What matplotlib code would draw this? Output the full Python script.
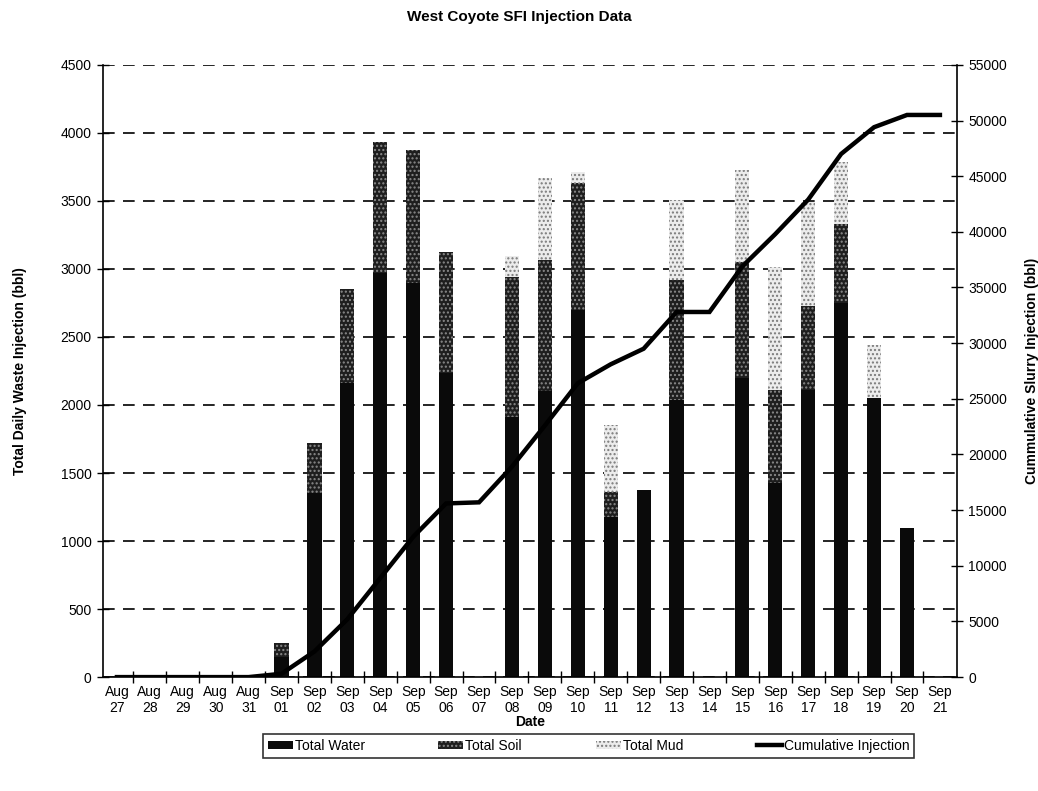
import numpy as np
import matplotlib.pyplot as plt
from matplotlib.patches import Patch
from matplotlib.lines import Line2D

plt.rcParams['font.family'] = ['Liberation Sans', 'DejaVu Sans']

dates = ['Aug\n27', 'Aug\n28', 'Aug\n29', 'Aug\n30', 'Aug\n31',
         'Sep\n01', 'Sep\n02', 'Sep\n03', 'Sep\n04', 'Sep\n05', 'Sep\n06',
         'Sep\n07', 'Sep\n08', 'Sep\n09', 'Sep\n10', 'Sep\n11', 'Sep\n12',
         'Sep\n13', 'Sep\n14', 'Sep\n15', 'Sep\n16', 'Sep\n17', 'Sep\n18',
         'Sep\n19', 'Sep\n20', 'Sep\n21']

# daily volumes (bbl)
water = [0, 0, 0, 0, 0, 150, 1350, 2160, 2970, 2900, 2235, 0, 1910, 2100,
         2700, 1180, 1375, 2040, 0, 2200, 1430, 2110, 2750, 2050, 1095, 0]
soil = [0, 0, 0, 0, 0, 100, 370, 690, 965, 975, 890, 0, 1030, 965,
        930, 180, 0, 880, 0, 850, 680, 620, 580, 0, 0, 0]
mud = [0, 0, 0, 0, 0, 0, 0, 0, 0, 0, 0, 0, 155, 600,
       80, 490, 0, 590, 0, 680, 905, 765, 455, 390, 0, 0]

# cumulative slurry injection (bbl)
cumulative = [0, 0, 0, 0, 0, 300, 2300, 5200, 8900, 12600, 15600, 15700,
              18900, 22600, 26400, 28100, 29500, 32800, 32800, 36900, 39800,
              42900, 47000, 49400, 50500, 50500]

x = np.arange(len(dates))
water = np.array(water)
soil = np.array(soil)
mud = np.array(mud)

fig = plt.figure(figsize=(10.38, 7.91), dpi=100)
ax = fig.add_axes([0.099, 0.144, 0.823, 0.774])

w = 0.43
ax.bar(x, water, w, color='#0a0a0a', linewidth=0, zorder=2)
ax.bar(x, soil, w, bottom=water, color='#1e1e1e', hatch='....',
       edgecolor='#8a8a8a', linewidth=0, zorder=2)
ax.bar(x, mud, w, bottom=water + soil, color='#ececec', hatch='....',
       edgecolor='#7a7a7a', linewidth=0, zorder=2)

ax.set_xlim(-0.43, 25.52)
ax.set_ylim(0, 4500)
ax.set_yticks(np.arange(0, 4501, 500))
ax.yaxis.grid(True, color='black', linestyle=(0, (7, 5)), linewidth=1.2)
ax.set_axisbelow(True)

ax.set_xticks(x)
ax.set_xticklabels(dates, fontsize=10, linespacing=1.1)
ax.set_xticks(np.arange(0.5, 25.5, 1), minor=True)
ax.tick_params(axis='x', which='major', length=0, pad=6)
ax.tick_params(axis='x', which='minor', length=8, direction='inout', width=1)
ax.tick_params(axis='y', direction='inout', length=9, width=1, labelsize=10)

ax.spines['top'].set_visible(False)
ax.spines['right'].set_visible(False)
ax.spines['left'].set_linewidth(1.2)
ax.spines['bottom'].set_linewidth(1.2)

ax.set_xlabel('Date', fontsize=10, fontweight='bold', labelpad=0)
ax.set_ylabel('Total Daily Waste Injection (bbl)', fontsize=10,
              fontweight='bold', labelpad=24)

ax2 = ax.twinx()
ax2.plot(x, cumulative, color='black', linewidth=3.2, solid_joinstyle='miter',
         zorder=3)
ax2.set_ylim(0, 55000)
ax2.set_yticks(np.arange(0, 55001, 5000))
ax2.tick_params(axis='y', direction='inout', length=9, width=1, labelsize=10)
for s in ['top', 'left', 'bottom']:
    ax2.spines[s].set_visible(False)
ax2.spines['right'].set_linewidth(1.2)
ax2.set_ylabel('Cummulative Slurry Injection (bbl)', fontsize=10,
               fontweight='bold', labelpad=13)

fig.text(0.5, 0.979, 'West Coyote SFI Injection Data', ha='center',
         va='center', fontsize=11, fontweight='bold')

handles = [Patch(facecolor='#0a0a0a', linewidth=0),
           Patch(facecolor='#1e1e1e', hatch='....', edgecolor='#8a8a8a', linewidth=0),
           Patch(facecolor='#ececec', hatch='....', edgecolor='#7a7a7a', linewidth=0),
           Line2D([], [], color='black', linewidth=3.2)]
labels = ['Total Water', 'Total Soil', 'Total Mud', 'Cumulative Injection']
leg = fig.legend(handles, labels, loc='center', bbox_to_anchor=(0.567, 0.057),
                 ncol=4, fontsize=10, frameon=True, fancybox=False,
                 edgecolor='black', handlelength=1.8, handleheight=0.6,
                 handletextpad=0.15, columnspacing=5.3, borderpad=0.35)
leg.get_frame().set_linewidth(1.2)

plt.savefig('out.png', dpi=100)
